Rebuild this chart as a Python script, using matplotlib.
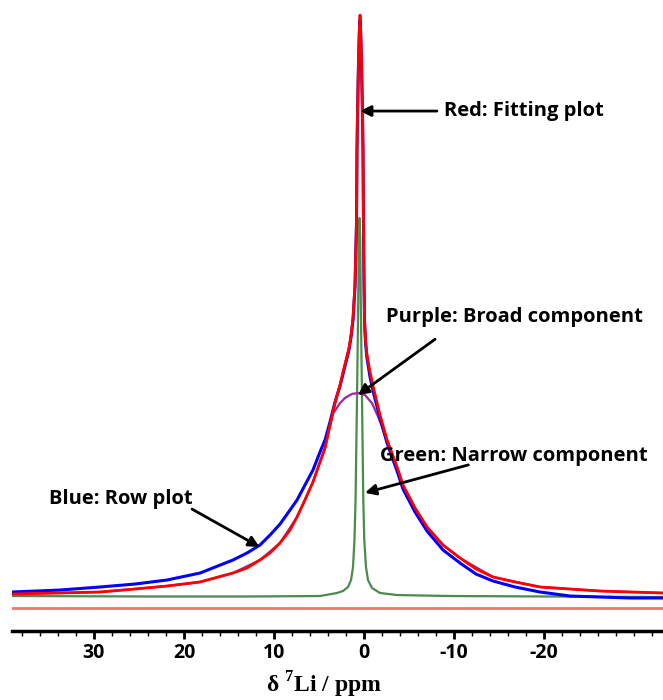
import matplotlib
matplotlib.use("Agg")
import matplotlib.pyplot as plt

plt.rcParams["mathtext.fontset"] = "custom"
plt.rcParams["mathtext.rm"] = "Liberation Serif:bold"

# Values (ppm, relative intensity, red peak = 100)
red_ppm = [39.11, 33.78, 29.33, 25.44, 21.89, 18.22, 14.56, 13.0, 11.56, 10.44,
           9.33, 8.22, 7.44, 6.56, 5.67, 4.89, 4.33, 3.78, 3.22, 2.67, 2.33, 2.0,
           1.67, 1.44, 1.22, 1.0, 0.83, 0.78, 0.72, 0.61, 0.52, 0.44, 0.37, 0.28,
           0.17, 0.11, 0.06, 0.0, -0.06, -0.17, -0.33, -0.67, -1.11, -1.78, -2.56,
           -3.67, -4.33, -5.67, -7.0, -8.78, -10.67, -12.44, -14.33, -16.78,
           -19.56, -22.89, -26.22, -29.56, -33.22]
red_int = [0.52, 0.69, 0.86, 1.37, 1.89, 2.58, 4.12, 4.98, 6.36, 7.56, 9.28,
           11.51, 13.75, 16.67, 19.76, 23.20, 25.60, 29.55, 33.33, 36.43, 38.66,
           40.72, 42.78, 45.02, 47.94, 53.61, 64.78, 76.80, 83.33, 92.27, 97.42,
           100.0, 97.42, 92.27, 83.33, 76.80, 64.78, 54.47, 47.59, 44.16, 41.58,
           38.66, 35.57, 31.27, 26.98, 22.34, 19.24, 15.29, 12.03, 8.93, 6.70,
           4.81, 3.44, 2.58, 1.72, 1.37, 1.03, 0.86, 0.69]

blue_ppm = red_ppm
blue_int = [0.86, 1.20, 1.72, 2.23, 2.92, 4.12, 6.36, 7.56, 8.93, 10.65, 12.54,
            14.95, 16.67, 19.24, 21.82, 24.91, 26.98, 30.07, 33.51, 36.25, 38.32,
            40.38, 42.44, 44.67, 47.59, 53.26, 64.43, 76.46, 82.99, 91.92, 96.91,
            99.14, 96.91, 91.92, 82.99, 76.46, 64.43, 54.12, 47.25, 43.64, 41.07,
            37.80, 34.71, 30.76, 26.46, 21.65, 18.56, 14.60, 11.34, 8.08, 5.84,
            3.95, 2.75, 1.72, 0.86, 0.17, 0.0, -0.17, -0.17]

green_ppm = [39.11, 23.78, 12.67, 4.89, 3.0, 2.33, 1.78, 1.44, 1.22, 1.06, 0.94,
             0.78, 0.64, 0.58, 0.5, 0.42, 0.36, 0.22, 0.08, -0.03, -0.22, -0.44,
             -0.89, -1.78, -3.67, -9.56, -20.67, -33.22]
green_int = [0.17, 0.09, 0.09, 0.17, 0.69, 1.03, 1.72, 2.92, 5.15, 9.79, 16.67,
             33.85, 51.03, 61.34, 65.12, 61.34, 51.03, 33.85, 16.67, 9.79, 5.15,
             2.92, 1.55, 0.69, 0.34, 0.17, 0.09, 0.0]

purple_ppm = [39.11, 29.33, 21.89, 18.22, 14.56, 11.56, 9.33, 7.44, 5.67, 4.33,
              3.44, 2.67, 2.11, 1.33, 0.67, -0.11, -0.89, -1.56, -2.56, -3.67,
              -4.33, -5.67, -7.0, -8.78, -10.67, -14.33, -19.56, -26.22, -33.22]
purple_int = [0.52, 0.86, 1.89, 2.58, 4.12, 6.36, 9.28, 13.75, 19.76, 25.60,
              31.5, 33.3, 34.2, 34.9, 35.05, 34.7, 33.3, 31.0, 26.98,
              22.34, 19.24, 15.29, 12.03, 8.93, 6.70, 3.44, 1.72, 1.03, 0.69]

offset_line = -1.9
major_ticks = [30, 20, 10, 0, -10, -20]


def main():
    fig = plt.figure(figsize=(6.63, 7.0), dpi=100)
    ax = fig.add_axes([12 / 663, 69 / 700, 651 / 663, 631 / 700])

    ax.axhline(offset_line, color="#ff7070", lw=2)
    ax.plot(green_ppm, green_int, color="#4d8a4d", lw=1.6)
    ax.plot(purple_ppm, purple_int, color="#9a2a9a", lw=1.6)
    ax.plot(blue_ppm, blue_int, color="#0000ff", lw=2.2)
    ax.plot(red_ppm, red_int, color="#ff0000", lw=2.0)

    ax.set_xlim(39.11, -33.22)
    ax.set_ylim(-5.84, 102.58)
    for s in ["top", "left", "right"]:
        ax.spines[s].set_visible(False)
    ax.spines["bottom"].set_linewidth(2.5)
    ax.set_yticks([])
    ax.set_xticks(major_ticks)
    ax.set_xticks([m for m in range(38, -34, -2) if m % 10 != 0 or m == -30],
                  minor=True)
    ax.tick_params(axis="x", which="major", length=6, width=2, pad=3)
    ax.tick_params(axis="x", which="minor", length=3.5, width=1)
    ax.set_xticklabels([str(t) for t in major_ticks], fontsize=14,
                       fontweight="bold", family="Open Sans")

    fig.text(324 / 663, 1 - 685 / 700, r"δ $^{7}$Li / ppm", ha="center",
             va="center", fontsize=17, family="Liberation Serif",
             fontweight="bold")

    arrow = dict(arrowstyle="-|>", color="black", lw=2, mutation_scale=16,
                 shrinkA=0, shrinkB=0)
    tk = dict(fontsize=14.5, fontweight="bold", family="Open Sans",
              va="center", ha="left")

    ax.annotate("", xy=(0.44, 83.5), xytext=(-8.1, 83.5), arrowprops=arrow)
    ax.text(-8.9, 83.5, "Red: Fitting plot", **tk)

    ax.annotate("", xy=(0.67, 34.7), xytext=(-7.9, 44.3), arrowprops=arrow)
    ax.text(-2.44, 48.1, "Purple: Broad component", **tk)

    ax.annotate("", xy=(-0.11, 17.9), xytext=(-11.6, 22.7), arrowprops=arrow)
    ax.text(-1.78, 24.2, "Green: Narrow component", **tk)

    ax.annotate("", xy=(11.6, 8.6), xytext=(19.1, 15.1), arrowprops=arrow)
    ax.text(35.0, 16.8, "Blue: Row plot", **tk)

    fig.savefig("out.png", dpi=100)


if __name__ == "__main__":
    main()
